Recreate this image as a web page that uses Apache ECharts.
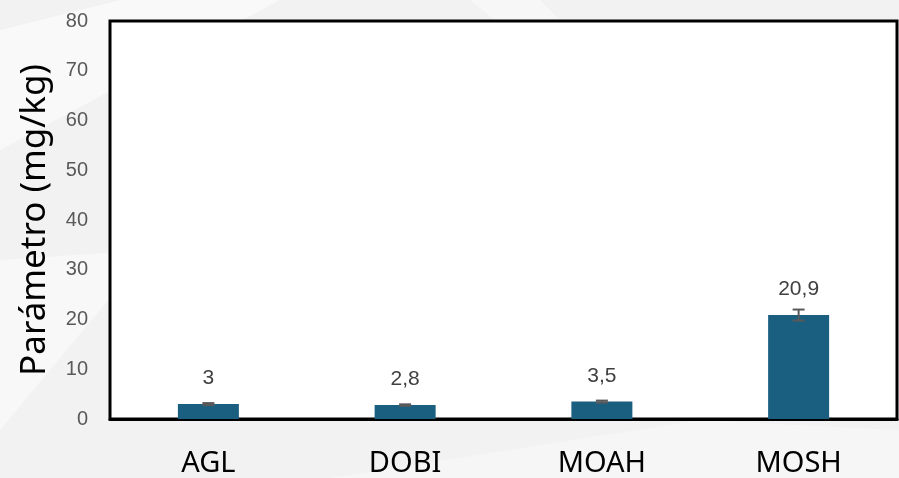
<!DOCTYPE html>
<html>
<head>
<meta charset="utf-8">
<script src="https://cdn.jsdelivr.net/npm/echarts@6/dist/echarts.min.js"></script>
<style>
    html, body { margin: 0; padding: 0; background: #f2f2f2; }
    #chart { width: 899px; height: 478px; }
</style>
</head>
<body>
<div id="chart"></div>
<script>
    // datos
    var categories = ['AGL', 'DOBI', 'MOAH', 'MOSH'];
    var values = [3, 2.8, 3.5, 20.9];
    var errors = [0.2, 0.15, 0.2, 1.1];
    var labels = ['3', '2,8', '3,5', '20,9'];
    var yTicks = [0, 10, 20, 30, 40, 50, 60, 70, 80];

    var barColor = '#1a5f80';
    var errColor = '#595959';

    var errData = values.map(function (v, i) {
        return [i, v - errors[i], v + errors[i]];
    });

    var chart = echarts.init(document.getElementById('chart'));
    chart.setOption({
        backgroundColor: '#f2f2f2',
        animation: false,
        // marcas de agua del fondo
        graphic: [
            { type: 'polygon', silent: true, z: -10,
              shape: { points: [[0, 30], [120, 0], [280, 0], [0, 150]] },
              style: { fill: 'rgba(255,255,255,0.5)' } },
            { type: 'polygon', silent: true, z: -10,
              shape: { points: [[0, 260], [150, 250], [0, 430]] },
              style: { fill: 'rgba(255,255,255,0.45)' } },
            { type: 'polygon', silent: true, z: -10,
              shape: { points: [[330, 478], [700, 420], [899, 430], [899, 478]] },
              style: { fill: 'rgba(255,255,255,0.3)' } },
            { type: 'polygon', silent: true, z: -10,
              shape: { points: [[470, 0], [540, 0], [560, 20], [495, 20]] },
              style: { fill: 'rgba(255,255,255,0.4)' } }
        ],
        grid: {
            left: 110,
            right: 2,
            top: 21,
            bottom: 59,
            show: true,
            backgroundColor: '#ffffff',
            borderColor: '#000000',
            borderWidth: 3
        },
        xAxis: {
            type: 'category',
            data: categories,
            axisLine: { show: true, lineStyle: { color: '#000', width: 3 } },
            axisTick: { show: false },
            axisLabel: {
                color: '#000',
                fontSize: 29,
                fontFamily: 'Noto Sans',
                margin: 30
            }
        },
        yAxis: {
            type: 'value',
            min: 0,
            max: 80,
            interval: 10,
            name: 'Parámetro (mg/kg)',
            nameLocation: 'middle',
            nameGap: 57,
            nameTextStyle: { color: '#000', fontSize: 35, fontFamily: 'Noto Sans' },
            axisLine: { show: false },
            axisTick: { show: false },
            splitLine: { show: false },
            axisLabel: {
                color: '#595959',
                fontSize: 20,
                fontFamily: 'Liberation Sans',
                margin: 22,
                formatter: function (v) { return yTicks.indexOf(v) >= 0 ? String(v) : ''; }
            }
        },
        series: [
            {
                type: 'bar',
                data: values,
                barWidth: '31%',
                itemStyle: { color: barColor },
                label: {
                    show: true,
                    position: 'top',
                    distance: 15,
                    color: '#404040',
                    fontSize: 21,
                    fontFamily: 'Liberation Sans',
                    formatter: function (p) { return labels[p.dataIndex]; }
                }
            },
            {
                type: 'custom',
                data: errData,
                z: 5,
                renderItem: function (params, api) {
                    var x = api.value(0);
                    var lo = api.coord([x, api.value(1)]);
                    var hi = api.coord([x, api.value(2)]);
                    var w = 6;
                    var st = { stroke: errColor, lineWidth: 2 };
                    return {
                        type: 'group',
                        children: [
                            { type: 'line', shape: { x1: hi[0], y1: hi[1], x2: lo[0], y2: lo[1] }, style: st },
                            { type: 'line', shape: { x1: hi[0] - w, y1: hi[1], x2: hi[0] + w, y2: hi[1] }, style: st },
                            { type: 'line', shape: { x1: lo[0] - w, y1: lo[1], x2: lo[0] + w, y2: lo[1] }, style: st }
                        ]
                    };
                }
            }
        ]
    });
</script>
</body>
</html>
